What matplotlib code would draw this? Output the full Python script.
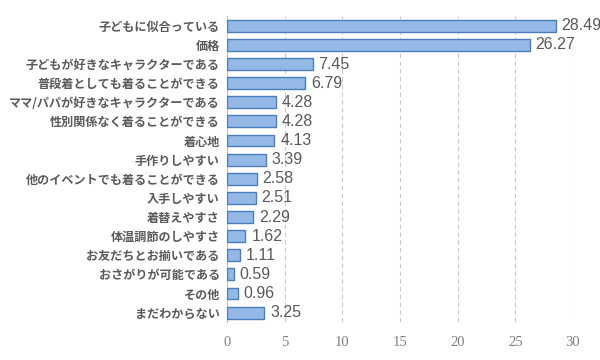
import matplotlib
matplotlib.use("Agg")
import matplotlib.pyplot as plt

labels = ["子どもに似合っている", "価格", "子どもが好きなキャラクターである",
          "普段着としても着ることができる", "ママ/パパが好きなキャラクターである",
          "性別関係なく着ることができる", "着心地", "手作りしやすい",
          "他のイベントでも着ることができる", "入手しやすい", "着替えやすさ",
          "体温調節のしやすさ", "お友だちとお揃いである", "おさがりが可能である",
          "その他", "まだわからない"]
values = [28.49, 26.27, 7.45, 6.79, 4.28, 4.28, 4.13, 3.39,
          2.58, 2.51, 2.29, 1.62, 1.11, 0.59, 0.96, 3.25]
xticks = [0, 5, 10, 15, 20, 25, 30]

plt.rcParams['font.family'] = ['Noto Sans CJK JP', 'DejaVu Sans']

fig = plt.figure(figsize=(6, 3.6), dpi=100)
ax = fig.add_axes([0.378, 0.105, 0.577, 0.85])

y = list(range(len(labels)))
ax.barh(y, values, height=0.62, color="#95b9e6", edgecolor="#4a7ebb", linewidth=1.0, zorder=3)
ax.set_ylim(len(labels) - 0.5, -0.5)
ax.set_xlim(0, 30)

for yi, v in zip(y, values):
    ax.text(v + 0.5, yi, f"{v:.2f}", va="center", ha="left", fontsize=11.5,
            color="#595959", family=["Liberation Sans", "DejaVu Sans"], zorder=4)

ax.set_yticks(y)
ax.set_yticklabels(labels, fontsize=8.7, color="#595959", fontweight="bold")
ax.set_xticks(xticks)
ax.set_xticklabels([str(t) for t in xticks], fontsize=10.5, color="#808080",
                   family=["Liberation Serif", "DejaVu Serif"])
ax.tick_params(axis="both", length=0)
ax.tick_params(axis="x", pad=10)
ax.tick_params(axis="y", pad=5)

ax.grid(axis="x", color="#c8c8c8", linestyle=(0, (4, 3)), linewidth=0.8, zorder=0)
for s in ["top", "right", "bottom"]:
    ax.spines[s].set_visible(False)
ax.spines["left"].set_color("#bfbfbf")

fig.savefig("out.png", dpi=100)
